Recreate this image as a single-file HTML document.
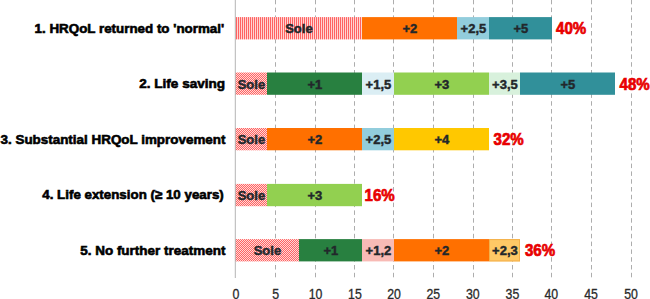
<!DOCTYPE html>
<html><head><meta charset="utf-8"><style>
html,body{margin:0;padding:0;background:#fff;}
body{width:650px;height:299px;overflow:hidden;}
svg{display:block;}
text{font-family:"Liberation Sans",sans-serif;}
</style></head><body>
<svg width="650" height="299" viewBox="0 0 650 299">
<defs>
<pattern id="p" x="0" y="0" width="2" height="2" patternUnits="userSpaceOnUse">
<rect x="0" y="0" width="2" height="2" fill="#FF6262"/>
<rect x="0" y="0" width="1" height="1" fill="#FFD8D6"/>
<rect x="1" y="1" width="1" height="1" fill="#FFD8D6"/>
</pattern>
<pattern id="q" x="0" y="0" width="2" height="2" patternUnits="userSpaceOnUse">
<rect x="0" y="0" width="2" height="2" fill="#FF6262"/>
<rect x="1" y="0" width="1" height="2" fill="#FFD4D2"/>
</pattern>
</defs>
<rect width="650" height="299" fill="#fff"/>

<line x1="275.5" y1="0" x2="275.5" y2="277.3" stroke="#ADADAD" stroke-width="1" stroke-dasharray="4.5 3.3" stroke-dashoffset="0.2"/>
<line x1="315.5" y1="0" x2="315.5" y2="277.3" stroke="#ADADAD" stroke-width="1" stroke-dasharray="4.5 3.3" stroke-dashoffset="0.2"/>
<line x1="354.5" y1="0" x2="354.5" y2="277.3" stroke="#ADADAD" stroke-width="1" stroke-dasharray="4.5 3.3" stroke-dashoffset="0.2"/>
<line x1="393.5" y1="0" x2="393.5" y2="277.3" stroke="#ADADAD" stroke-width="1" stroke-dasharray="4.5 3.3" stroke-dashoffset="0.2"/>
<line x1="433.5" y1="0" x2="433.5" y2="277.3" stroke="#ADADAD" stroke-width="1" stroke-dasharray="4.5 3.3" stroke-dashoffset="0.2"/>
<line x1="473.5" y1="0" x2="473.5" y2="277.3" stroke="#ADADAD" stroke-width="1" stroke-dasharray="4.5 3.3" stroke-dashoffset="0.2"/>
<line x1="512.5" y1="0" x2="512.5" y2="277.3" stroke="#ADADAD" stroke-width="1" stroke-dasharray="4.5 3.3" stroke-dashoffset="0.2"/>
<line x1="551.5" y1="0" x2="551.5" y2="277.3" stroke="#ADADAD" stroke-width="1" stroke-dasharray="4.5 3.3" stroke-dashoffset="0.2"/>
<line x1="591.5" y1="0" x2="591.5" y2="277.3" stroke="#ADADAD" stroke-width="1" stroke-dasharray="4.5 3.3" stroke-dashoffset="0.2"/>
<line x1="631.5" y1="0" x2="631.5" y2="277.3" stroke="#ADADAD" stroke-width="1" stroke-dasharray="4.5 3.3" stroke-dashoffset="0.2"/>
<text x="34.60" y="32.5" font-size="13.0" font-weight="bold" fill="#000" stroke="#000" stroke-width="0.6" textLength="189.55" lengthAdjust="spacingAndGlyphs">1. HRQoL returned to 'normal'</text>
<rect x="235" y="17.1" width="127" height="22.3" fill="url(#q)"/>
<text x="298.9" y="33.1" font-size="13" font-weight="bold" text-anchor="middle" fill="#22272B" stroke="#22272B" stroke-width="0.45">Sole</text>
<rect x="362" y="17.1" width="95" height="22.3" fill="#FF7000"/>
<text x="409.9" y="33.1" font-size="13" font-weight="bold" text-anchor="middle" fill="#22272B" stroke="#22272B" stroke-width="0.45">+2</text>
<rect x="457" y="17.1" width="32" height="22.3" fill="#92CDDC"/>
<text x="473.4" y="33.1" font-size="13" font-weight="bold" text-anchor="middle" fill="#22272B" stroke="#22272B" stroke-width="0.45">+2,5</text>
<rect x="489" y="17.1" width="63" height="22.3" fill="#31909A"/>
<text x="520.9" y="33.1" font-size="13" font-weight="bold" text-anchor="middle" fill="#22272B" stroke="#22272B" stroke-width="0.45">+5</text>
<text x="556.1" y="34.3" font-size="16" font-weight="bold" fill="#E80000" stroke="#E80000" stroke-width="0.7" textLength="30.2" lengthAdjust="spacingAndGlyphs">40%</text>
<text x="139.20" y="88.4" font-size="13.0" font-weight="bold" fill="#000" stroke="#000" stroke-width="0.6" textLength="85.95" lengthAdjust="spacingAndGlyphs">2. Life saving</text>
<rect x="235" y="72.5" width="32" height="22.3" fill="url(#p)"/>
<text x="251.4" y="88.5" font-size="13" font-weight="bold" text-anchor="middle" fill="#22272B" stroke="#22272B" stroke-width="0.45">Sole</text>
<rect x="267" y="72.5" width="95" height="22.3" fill="#288040"/>
<text x="314.9" y="88.5" font-size="13" font-weight="bold" text-anchor="middle" fill="#22272B" stroke="#22272B" stroke-width="0.45">+1</text>
<rect x="362" y="72.5" width="32" height="22.3" fill="#DBEEF4"/>
<text x="378.4" y="88.5" font-size="13" font-weight="bold" text-anchor="middle" fill="#22272B" stroke="#22272B" stroke-width="0.45">+1,5</text>
<rect x="394" y="72.5" width="95" height="22.3" fill="#92D050"/>
<text x="441.9" y="88.5" font-size="13" font-weight="bold" text-anchor="middle" fill="#22272B" stroke="#22272B" stroke-width="0.45">+3</text>
<rect x="489" y="72.5" width="31" height="22.3" fill="#D8F1DC"/>
<text x="504.9" y="88.5" font-size="13" font-weight="bold" text-anchor="middle" fill="#22272B" stroke="#22272B" stroke-width="0.45">+3,5</text>
<rect x="520" y="72.5" width="95" height="22.3" fill="#31909A"/>
<text x="567.9" y="88.5" font-size="13" font-weight="bold" text-anchor="middle" fill="#22272B" stroke="#22272B" stroke-width="0.45">+5</text>
<text x="619.5" y="89.7" font-size="16" font-weight="bold" fill="#E80000" stroke="#E80000" stroke-width="0.7" textLength="30.2" lengthAdjust="spacingAndGlyphs">48%</text>
<text x="0.50" y="143.7" font-size="13.0" font-weight="bold" fill="#000" stroke="#000" stroke-width="0.6" textLength="225.00" lengthAdjust="spacingAndGlyphs">3. Substantial HRQoL improvement</text>
<rect x="235" y="128" width="32" height="22.3" fill="url(#p)"/>
<text x="251.4" y="144" font-size="13" font-weight="bold" text-anchor="middle" fill="#22272B" stroke="#22272B" stroke-width="0.45">Sole</text>
<rect x="267" y="128" width="95" height="22.3" fill="#FF7000"/>
<text x="314.9" y="144" font-size="13" font-weight="bold" text-anchor="middle" fill="#22272B" stroke="#22272B" stroke-width="0.45">+2</text>
<rect x="362" y="128" width="32" height="22.3" fill="#92CDDC"/>
<text x="378.4" y="144" font-size="13" font-weight="bold" text-anchor="middle" fill="#22272B" stroke="#22272B" stroke-width="0.45">+2,5</text>
<rect x="394" y="128" width="95" height="22.3" fill="#FFC800"/>
<text x="441.9" y="144" font-size="13" font-weight="bold" text-anchor="middle" fill="#22272B" stroke="#22272B" stroke-width="0.45">+4</text>
<text x="493.6" y="145.2" font-size="16" font-weight="bold" fill="#E80000" stroke="#E80000" stroke-width="0.7" textLength="30.2" lengthAdjust="spacingAndGlyphs">32%</text>
<text x="42.30" y="198.7" font-size="13.0" font-weight="bold" fill="#000" stroke="#000" stroke-width="0.6" textLength="181.50" lengthAdjust="spacingAndGlyphs">4. Life extension (≥ 10 years)</text>
<rect x="235" y="183.9" width="32" height="22.3" fill="url(#p)"/>
<text x="251.4" y="199.9" font-size="13" font-weight="bold" text-anchor="middle" fill="#22272B" stroke="#22272B" stroke-width="0.45">Sole</text>
<rect x="267" y="183.9" width="95" height="22.3" fill="#92D050"/>
<text x="314.9" y="199.9" font-size="13" font-weight="bold" text-anchor="middle" fill="#22272B" stroke="#22272B" stroke-width="0.45">+3</text>
<text x="364.5" y="201.1" font-size="16" font-weight="bold" fill="#E80000" stroke="#E80000" stroke-width="0.7" textLength="30.2" lengthAdjust="spacingAndGlyphs">16%</text>
<text x="80.20" y="254.6" font-size="13.0" font-weight="bold" fill="#000" stroke="#000" stroke-width="0.6" textLength="145.30" lengthAdjust="spacingAndGlyphs">5. No further treatment</text>
<rect x="235" y="239.1" width="64" height="22.3" fill="url(#p)"/>
<text x="267.4" y="255.1" font-size="13" font-weight="bold" text-anchor="middle" fill="#22272B" stroke="#22272B" stroke-width="0.45">Sole</text>
<rect x="299" y="239.1" width="63" height="22.3" fill="#288040"/>
<text x="330.9" y="255.1" font-size="13" font-weight="bold" text-anchor="middle" fill="#22272B" stroke="#22272B" stroke-width="0.45">+1</text>
<rect x="362" y="239.1" width="32" height="22.3" fill="#F8BAB5"/>
<text x="378.4" y="255.1" font-size="13" font-weight="bold" text-anchor="middle" fill="#22272B" stroke="#22272B" stroke-width="0.45">+1,2</text>
<rect x="394" y="239.1" width="95" height="22.3" fill="#FF7000"/>
<text x="441.9" y="255.1" font-size="13" font-weight="bold" text-anchor="middle" fill="#22272B" stroke="#22272B" stroke-width="0.45">+2</text>
<rect x="489" y="239.1" width="31" height="22.3" fill="#FFC966"/>
<rect x="489.5" y="239.6" width="30" height="21.3" fill="none" stroke="#F3B04A" stroke-width="1"/>
<text x="504.9" y="255.1" font-size="13" font-weight="bold" text-anchor="middle" fill="#22272B" stroke="#22272B" stroke-width="0.45">+2,3</text>
<text x="524.9" y="256.3" font-size="16" font-weight="bold" fill="#E80000" stroke="#E80000" stroke-width="0.7" textLength="30.2" lengthAdjust="spacingAndGlyphs">36%</text>
<line x1="235.3" y1="0" x2="235.3" y2="278" stroke="#B4B4B4" stroke-width="1"/>
<text x="236.0" y="298.6" font-size="14" text-anchor="middle" fill="#2A2A2A" stroke="#2A2A2A" stroke-width="0.3" textLength="6.9" lengthAdjust="spacingAndGlyphs">0</text>
<text x="275.8" y="298.6" font-size="14" text-anchor="middle" fill="#2A2A2A" stroke="#2A2A2A" stroke-width="0.3" textLength="6.9" lengthAdjust="spacingAndGlyphs">5</text>
<text x="315.5" y="298.6" font-size="14" text-anchor="middle" fill="#2A2A2A" stroke="#2A2A2A" stroke-width="0.3" textLength="13.7" lengthAdjust="spacingAndGlyphs">10</text>
<text x="354.9" y="298.6" font-size="14" text-anchor="middle" fill="#2A2A2A" stroke="#2A2A2A" stroke-width="0.3" textLength="13.7" lengthAdjust="spacingAndGlyphs">15</text>
<text x="394.1" y="298.6" font-size="14" text-anchor="middle" fill="#2A2A2A" stroke="#2A2A2A" stroke-width="0.3" textLength="13.7" lengthAdjust="spacingAndGlyphs">20</text>
<text x="433.3" y="298.6" font-size="14" text-anchor="middle" fill="#2A2A2A" stroke="#2A2A2A" stroke-width="0.3" textLength="13.7" lengthAdjust="spacingAndGlyphs">25</text>
<text x="472.8" y="298.6" font-size="14" text-anchor="middle" fill="#2A2A2A" stroke="#2A2A2A" stroke-width="0.3" textLength="13.7" lengthAdjust="spacingAndGlyphs">30</text>
<text x="512.4" y="298.6" font-size="14" text-anchor="middle" fill="#2A2A2A" stroke="#2A2A2A" stroke-width="0.3" textLength="13.7" lengthAdjust="spacingAndGlyphs">35</text>
<text x="551.3" y="298.6" font-size="14" text-anchor="middle" fill="#2A2A2A" stroke="#2A2A2A" stroke-width="0.3" textLength="13.7" lengthAdjust="spacingAndGlyphs">40</text>
<text x="591.1" y="298.6" font-size="14" text-anchor="middle" fill="#2A2A2A" stroke="#2A2A2A" stroke-width="0.3" textLength="13.7" lengthAdjust="spacingAndGlyphs">45</text>
<text x="631.05" y="298.6" font-size="14" text-anchor="middle" fill="#2A2A2A" stroke="#2A2A2A" stroke-width="0.3" textLength="13.7" lengthAdjust="spacingAndGlyphs">50</text>
</svg>
</body></html>
